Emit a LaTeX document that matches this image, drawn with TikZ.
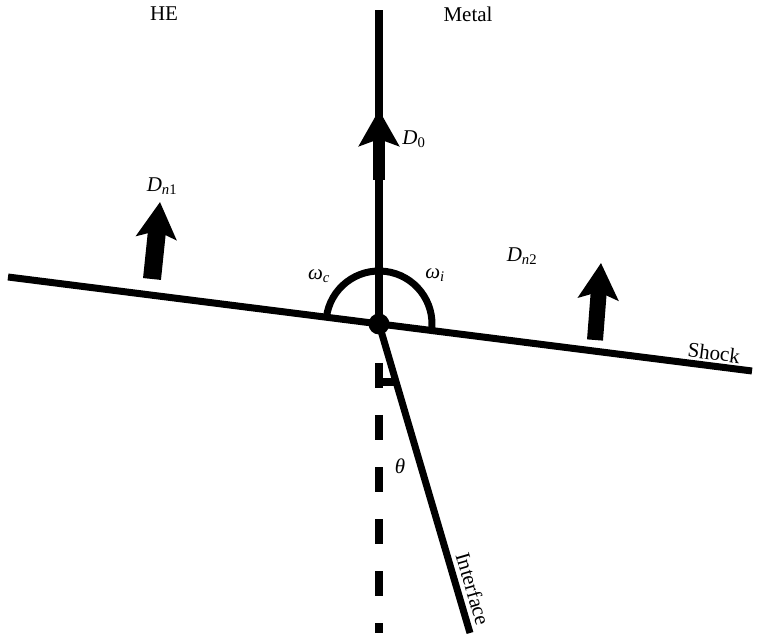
\documentclass[tikz,border=0pt]{standalone}
\usepackage{fontspec}
\setmainfont{Liberation Serif}
\usetikzlibrary{arrows.meta}

\begin{document}
\begin{tikzpicture}[
  x=1pt, y=1pt,
  every node/.style={font=\fontsize{21}{24}\selectfont, inner sep=0pt},
  thickline/.style={line width=7pt},
  axisline/.style={line width=8pt},
  flowarrow/.style={line width=16pt, -{Stealth[length=36pt, width=40pt, inset=7pt]}}
]
\useasboundingbox (0,0) rectangle (758,638);

% Key points
\coordinate (O) at (379,314);
\coordinate (top) at (379,628);
\coordinate (shockL) at (8,361);
\coordinate (shockR) at (752,267);
\coordinate (ifaceB) at (470,5);
\coordinate (dashT) at (379,275);
\coordinate (dashB) at (379,5);
\coordinate (footL) at (379,255.5);
\coordinate (footR) at (397,255.5);

% Lines
\draw[axisline] (O) -- (top);
\draw[thickline] (shockL) -- (shockR);
\draw[thickline] (O) -- (ifaceB);
\draw[axisline, dash pattern=on 25pt off 27pt] (dashT) -- (dashB);
\draw[axisline] (footL) -- (footR);
\draw[thickline] ([shift={(-7.2:53)}]O) arc[start angle=-7.2, end angle=172.8, radius=53];
\fill (O) circle (10.5);

% Velocity arrows
\coordinate (D0base) at (379,458);
\coordinate (D0tip) at (379,528);
\coordinate (Dn1base) at (152,359);
\coordinate (Dn1tip) at (160,436);
\coordinate (Dn2base) at (595,298);
\coordinate (Dn2tip) at (601,375);
\draw[flowarrow, line width=12pt] (D0base) -- (D0tip);
\draw[flowarrow, line width=18pt] (Dn1base) -- (Dn1tip);
\draw[flowarrow] (Dn2base) -- (Dn2tip);

% Labels
\node (he) at (164,624) {HE};
\node (metal) at (468,624) {Metal};
\node (d0) at (414,499) {\textit{D}\textsubscript{0}};
\node (dn1) at (162,452) {\textit{D}\textsubscript{\textit{n}1}};
\node (dn2) at (522,382) {\textit{D}\textsubscript{\textit{n}2}};
\node (wc) at (319,362) {\textit{ω}\textsubscript{\textit{c}}};
\node (wi) at (435,363) {\textit{ω}\textsubscript{\textit{i}}};
\node (theta) at (400,172) {\textit{θ}};
\node[rotate=-7.2] (shock) at (714,285) {Shock};
\node[rotate=-73.6] (iface) at (473,49) {Interface};

\end{tikzpicture}
\end{document}
